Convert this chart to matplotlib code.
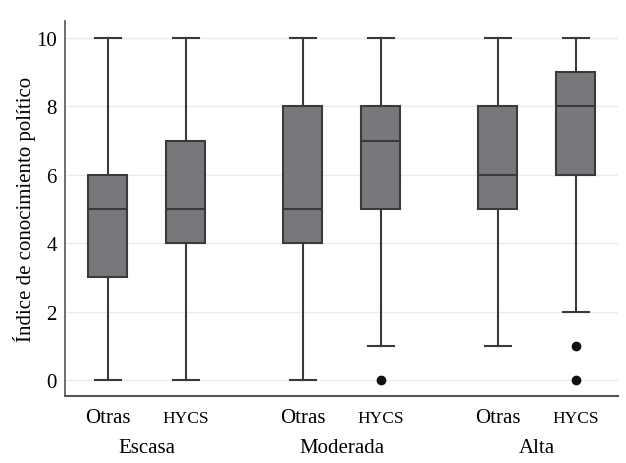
import matplotlib.pyplot as plt
import matplotlib.transforms as mtransforms

plt.rcParams['font.family'] = ['Liberation Serif', 'DejaVu Serif']

groups = ['Escasa', 'Moderada', 'Alta']
labels = ['Otras', 'HYCS', 'Otras', 'HYCS', 'Otras', 'HYCS']
whislo = [0, 0, 0, 1, 1, 2]
q1 = [3, 4, 4, 5, 5, 6]
med = [5, 5, 5, 7, 6, 8]
q3 = [6, 7, 8, 8, 8, 9]
whishi = [10, 10, 10, 10, 10, 10]
fliers = [[], [], [], [0], [], [1, 0]]

positions = [0, 1, 2.5, 3.5, 5, 6]
group_pos = [0.5, 3.0, 5.5]

stats = []
for i in range(len(labels)):
    stats.append({'whislo': whislo[i], 'q1': q1[i], 'med': med[i], 'q3': q3[i],
                  'whishi': whishi[i], 'fliers': fliers[i], 'label': labels[i]})

fig = plt.figure(figsize=(6.26, 4.64), dpi=100)
ax = fig.add_axes([65/626, 1 - 397/464, (618-65)/626, (397-22)/464])

edge = '#3a3a3a'
ax.bxp(stats, positions=positions, widths=0.5, patch_artist=True,
       boxprops=dict(facecolor='#77787b', edgecolor=edge, linewidth=1.5),
       medianprops=dict(color=edge, linewidth=1.5),
       whiskerprops=dict(color=edge, linewidth=1.5),
       capprops=dict(color=edge, linewidth=1.5),
       capwidths=0.33,
       flierprops=dict(marker='o', markerfacecolor='#111111', markeredgecolor='#111111', markersize=6))

ax.set_xlim(-0.55, 6.54)
ax.set_ylim(-0.47, 10.5)
ax.set_yticks([0, 2, 4, 6, 8, 10])
ax.yaxis.grid(True, color='#ebebeb', linewidth=1)
ax.set_axisbelow(True)
ax.spines['top'].set_visible(False)
ax.spines['right'].set_visible(False)
ax.spines['left'].set_color('#555555')
ax.spines['bottom'].set_color('#555555')
ax.spines['left'].set_linewidth(1.2)
ax.spines['bottom'].set_linewidth(1.5)
ax.tick_params(axis='y', length=0, pad=6, labelsize=15)

# x labels drawn as text so the small-caps label shares the baseline
ax.set_xticks(positions)
ax.set_xticklabels([])
ax.tick_params(axis='x', length=0)

trans = mtransforms.blended_transform_factory(ax.transData, fig.transFigure)
for lab, xp in zip(labels, positions):
    size = 12.5 if lab == 'HYCS' else 15
    ax.text(xp, 1 - 423/464, lab, transform=trans, ha='center', va='baseline', fontsize=size)
for g, xp in zip(groups, group_pos):
    ax.text(xp, 1 - 453/464, g, transform=trans, ha='center', va='baseline', fontsize=15)

ax.set_ylabel('Índice de conocimiento político', fontsize=15)
ax.yaxis.set_label_coords(-0.052, 0.5)

fig.savefig('out.png', dpi=100)
